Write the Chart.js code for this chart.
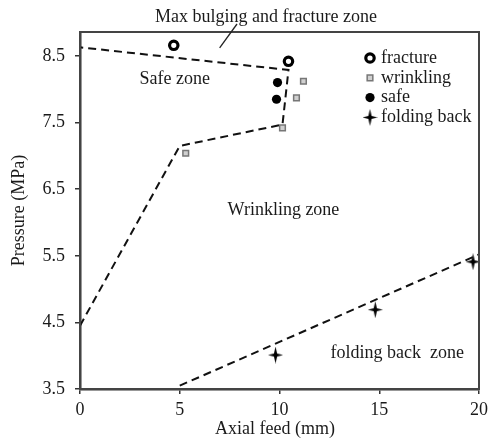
<!DOCTYPE html>
<html>
<head>
<meta charset="utf-8">
<script src="https://cdn.jsdelivr.net/npm/chart.js@4/dist/chart.umd.min.js"></script>
<style>
  html, body { margin: 0; padding: 0; background: #fff; }
  #wrap { width: 490px; height: 441px; position: relative; }
</style>
</head>
<body>
<div id="wrap"><canvas id="c" width="490" height="441"></canvas></div>
<script>
// Tick labels
const xTicks = [0, 5, 10, 15, 20];
const yTicks = [3.5, 4.5, 5.5, 6.5, 7.5, 8.5];

// Experimental points (axial feed in mm, pressure in MPa)
const fractureX = [4.7, 10.45];
const fractureY = [8.66, 8.42];
const wrinklingX = [11.2, 10.85, 10.15, 5.3];
const wrinklingY = [8.12, 7.87, 7.42, 7.04];
const safeX = [9.9, 9.85];
const safeY = [8.1, 7.85];
const foldingX = [9.8, 14.8, 19.7];
const foldingY = [4.01, 4.69, 5.41];

// Zone boundaries
const boundaryX = [0, 5.0, 10.15, 10.45, 0];
const boundaryY = [4.45, 7.15, 7.47, 8.29, 8.63];
const foldLineX = [5, 20];
const foldLineY = [3.55, 5.52];

const pts = (xs, ys) => xs.map((x, i) => ({ x: x, y: ys[i] }));

// Four-pointed star used for the "folding back" marker
function makeStar() {
  const w = 15, h = 17;
  const c = document.createElement('canvas');
  c.width = w; c.height = h;
  const g = c.getContext('2d');
  const cx = w / 2, cy = h / 2, k = 1.6;
  g.fillStyle = '#000';
  g.beginPath();
  g.moveTo(cx, 0);
  g.lineTo(cx + k, cy - k);
  g.lineTo(w, cy);
  g.lineTo(cx + k, cy + k);
  g.lineTo(cx, h);
  g.lineTo(cx - k, cy + k);
  g.lineTo(0, cy);
  g.lineTo(cx - k, cy - k);
  g.closePath();
  g.fill();
  return c;
}
const star = makeStar();

const SERIF = "'Liberation Serif', 'Times New Roman', serif";
Chart.defaults.font.family = SERIF;
Chart.defaults.font.size = 18;
Chart.defaults.color = '#1a1a1a';

const markerSets = [
  { label: 'fracture', data: pts(fractureX, fractureY), pointStyle: 'circle', pointRadius: 4.2,
    pointBackgroundColor: '#fff', pointBorderColor: '#000', pointBorderWidth: 3.2 },
  { label: 'wrinkling', data: pts(wrinklingX, wrinklingY), pointStyle: 'rect', pointRadius: 4,
    pointBackgroundColor: '#d0d0d0', pointBorderColor: '#777', pointBorderWidth: 1.5 },
  { label: 'safe', data: pts(safeX, safeY), pointStyle: 'circle', pointRadius: 4.6,
    pointBackgroundColor: '#000', pointBorderColor: '#000', pointBorderWidth: 0 },
  { label: 'folding back', data: pts(foldingX, foldingY), pointStyle: star, pointRadius: 8,
    pointBackgroundColor: '#000', pointBorderColor: '#000', pointBorderWidth: 0 }
];

const lineSets = [
  { label: 'boundary', data: pts(boundaryX, boundaryY) },
  { label: 'folding boundary', data: pts(foldLineX, foldLineY) }
].map(d => Object.assign(d, {
  showLine: true, borderColor: '#111', borderWidth: 2, borderDash: [8, 5],
  pointRadius: 0, pointHoverRadius: 0, fill: false
}));

const datasets = lineSets.concat(markerSets.map(d => Object.assign(d, { showLine: false })));

// Text placed on the plot, anchored in data coordinates
const zoneLabels = [
  { text: 'Safe zone', x: 4.75, y: 8.15 },
  { text: 'Wrinkling zone', x: 10.2, y: 6.19 },
  { text: 'folding back  zone', x: 15.9, y: 4.04 }
];

const decorations = {
  id: 'decorations',
  afterDatasetsDraw(chart) {
    const { ctx, chartArea: a, scales: { x, y } } = chart;
    ctx.save();
    // frame around the plot
    ctx.strokeStyle = '#444';
    ctx.lineWidth = 2;
    ctx.strokeRect(a.left, a.top, a.right - a.left, a.bottom - a.top);

    ctx.fillStyle = '#1a1a1a';
    ctx.font = '18px ' + SERIF;
    ctx.textAlign = 'center';
    ctx.textBaseline = 'middle';
    zoneLabels.forEach(l => ctx.fillText(l.text, x.getPixelForValue(l.x), y.getPixelForValue(l.y)));

    // heading above the plot with its leader line
    ctx.fillText('Max bulging and fracture zone', 266, 17);
    ctx.strokeStyle = '#222';
    ctx.lineWidth = 1.3;
    ctx.beginPath();
    ctx.moveTo(237, 24);
    ctx.lineTo(x.getPixelForValue(7.0), y.getPixelForValue(8.62));
    ctx.stroke();

    // x-axis title
    ctx.fillText('Axial feed (mm)', 275, 429);

    // legend
    const lx = 370, ly = 58, step = 19.8;
    ctx.textAlign = 'left';
    markerSets.forEach((d, i) => {
      const yy = ly + i * step;
      ctx.fillStyle = d.pointBackgroundColor;
      ctx.strokeStyle = d.pointBorderColor;
      ctx.lineWidth = d.pointBorderWidth;
      Chart.helpers.drawPoint(ctx, {
        pointStyle: d.pointStyle, radius: d.pointRadius, rotation: 0, borderWidth: d.pointBorderWidth
      }, lx, yy);
      ctx.fillStyle = '#1a1a1a';
      ctx.fillText(d.label, lx + 11, yy);
    });
    ctx.restore();
  }
};

new Chart(document.getElementById('c'), {
  type: 'scatter',
  data: { datasets: datasets },
  options: {
    responsive: false,
    animation: false,
    events: [],
    layout: { padding: { top: 32, right: 11, left: 0, bottom: 0 } },
    plugins: { legend: { display: false }, tooltip: { enabled: false } },
    scales: {
      x: {
        type: 'linear', min: 0, max: 20,
        afterBuildTicks: s => { s.ticks = xTicks.map(v => ({ value: v })); },
        afterFit: s => { s.height = 52; s.paddingLeft = 0; s.paddingRight = 0; },
        ticks: { padding: 5, color: '#1a1a1a', font: { size: 18 } },
        grid: { drawOnChartArea: false, drawTicks: true, tickLength: 5, color: '#333', lineWidth: 1.5 },
        border: { display: true, color: '#333', width: 2.5 }
      },
      y: {
        type: 'linear', min: 3.5, max: 8.86,
        afterBuildTicks: s => { s.ticks = yTicks.map(v => ({ value: v })); },
        afterFit: s => { s.width = 80; },
        ticks: { padding: 10, color: '#1a1a1a', font: { size: 18 } },
        grid: { drawOnChartArea: false, drawTicks: true, tickLength: 5, color: '#333', lineWidth: 1.5 },
        border: { display: true, color: '#333', width: 2.5 },
        title: { display: true, text: 'Pressure (MPa)', padding: { top: 8, bottom: 0 }, font: { size: 18 }, color: '#1a1a1a' }
      }
    }
  },
  plugins: [decorations]
});
</script>
</body>
</html>
